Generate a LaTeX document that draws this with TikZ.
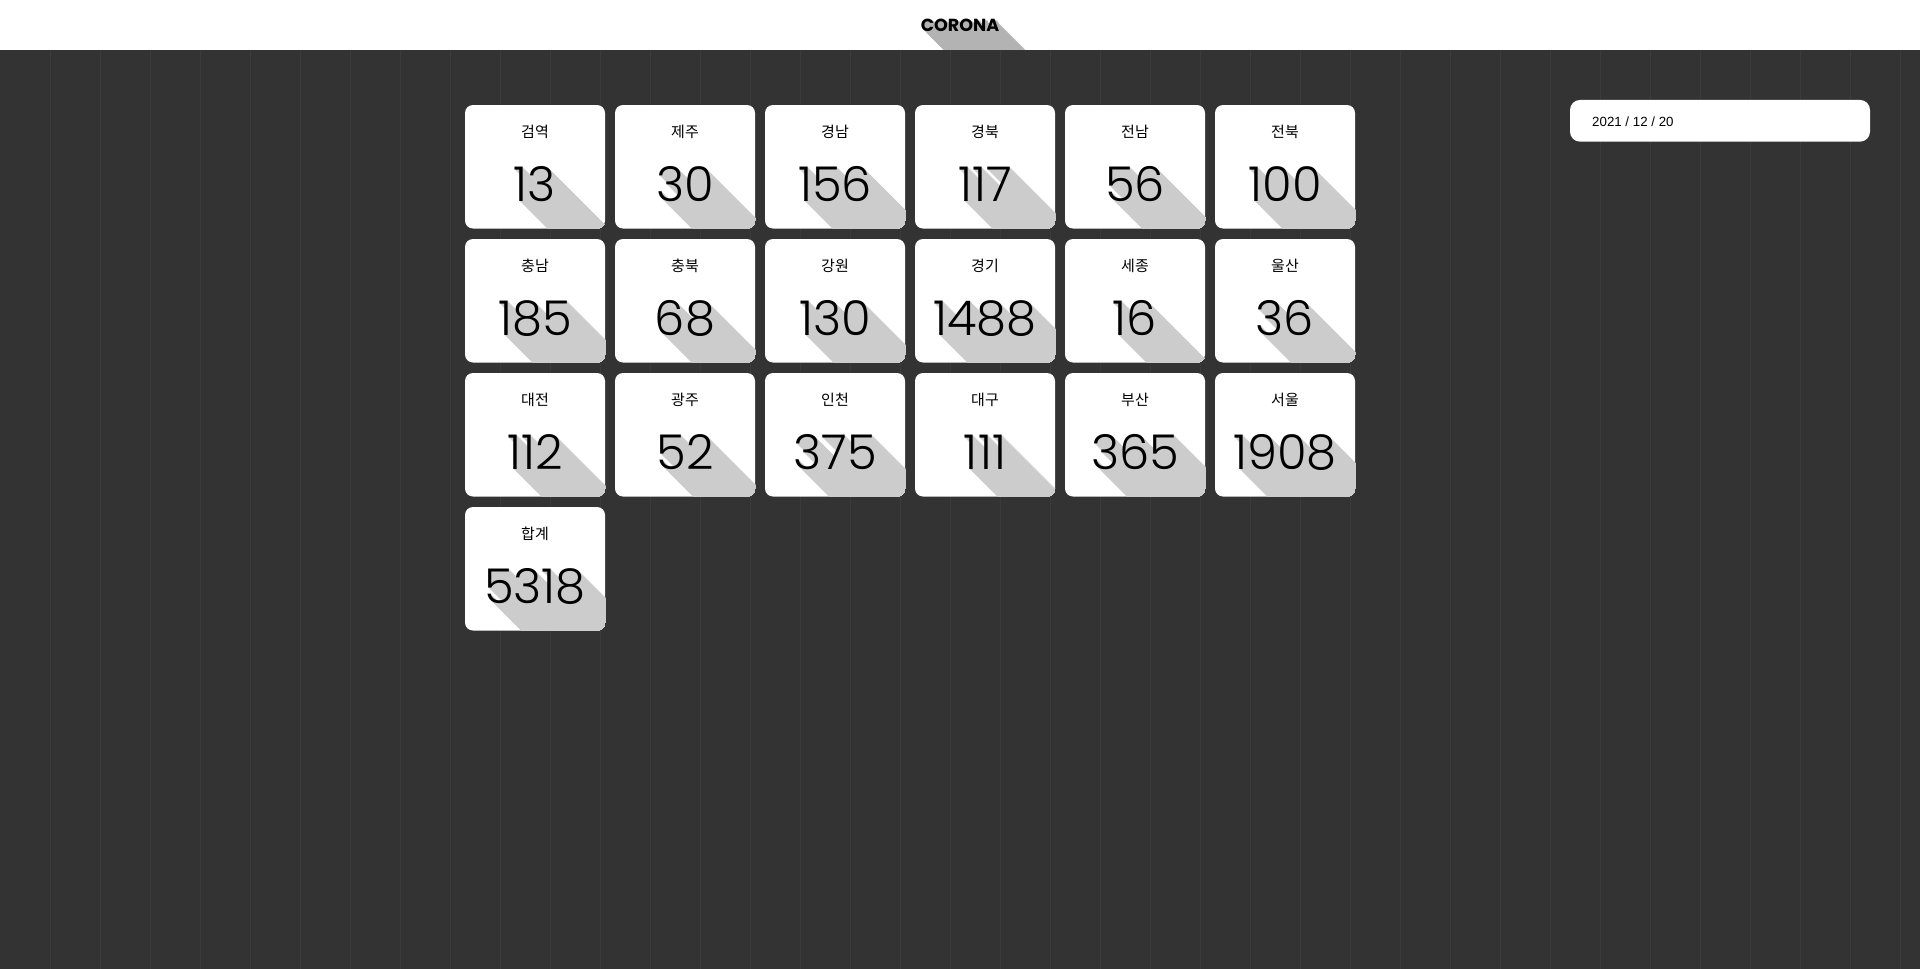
\documentclass[tikz,border=0pt]{standalone}
\usepackage{fontspec}
\newfontfamily\krfont{Noto Sans CJK KR}
\newfontfamily\numfont{Poppins}[UprightFont=* Light]
\newfontfamily\logofont{Poppins}
\newfontfamily\datefont{Liberation Sans}
\definecolor{bg}{HTML}{333333}
\definecolor{gridc}{HTML}{3B3B3B}
\definecolor{shade}{HTML}{CCCCCC}
\definecolor{logoshade}{HTML}{B3B3B3}
\tikzset{
  cardbox/.style={fill=white,rounded corners=8pt,minimum width=140pt,minimum height=123.5pt,inner sep=0pt},
  numtxt/.style={font=\numfont\fontsize{48}{48}\selectfont,inner sep=0pt,anchor=base},
  labeltxt/.style={font=\krfont\fontsize{15}{15}\selectfont,inner sep=0pt,anchor=base},
  logotxt/.style={font=\logofont\bfseries\fontsize{17.5}{17.5}\selectfont,inner sep=0pt,anchor=base},
  datebox/.style={fill=white,rounded corners=10pt,minimum width=300pt,minimum height=41.7pt,inner sep=0pt},
  datetxt/.style={font=\datefont\fontsize{13.3}{13.3}\selectfont,inner sep=0pt,anchor=base west},
  gridline/.style={draw=gridc,line width=1pt}
}
\newcommand\regioncard[5]{%
  \node[cardbox] (#1) at (#2+70,#3+61.75) {};
  \begin{scope}
    \clip[rounded corners=8pt] (#2,#3) rectangle ++(140,123.5);
    \foreach \i in {1,...,72} \node[numtxt,text=shade] at (#2+70+\i,#3+96+\i) {#5};
  \end{scope}
  \node[labeltxt] (#1-label) at (#2+70,#3+32.5) {#4};
  \node[numtxt] (#1-num) at (#2+70,#3+96) {#5};
}
\begin{document}
\begin{tikzpicture}[x=1pt,y=-1pt]
\useasboundingbox (0,0) rectangle (1920,969);
\fill[bg] (0,0) rectangle (1920,969);
\foreach \x in {50,100,...,1900} \draw[gridline] (\x+0.5,49) -- (\x+0.5,969);
\fill[white] (0,0) rectangle (1920,49.5);
% title with long shadow
\begin{scope}
  \clip (0,0) rectangle (1920,49.5);
  \foreach \i in {1,...,30} \node[logotxt,text=logoshade] at (960+\i,31+\i) {CORONA};
\end{scope}
\node[logotxt] (title) at (960,31) {CORONA};
% date box
\node[datebox] (date) at (1720,120.8) {};
\node[datetxt] (datetext) at (1592,126.5) {2021 / 12 / 20};
% cards
\regioncard{c00}{465}{105}{검역}{13}
\regioncard{c01}{615}{105}{제주}{30}
\regioncard{c02}{765}{105}{경남}{156}
\regioncard{c03}{915}{105}{경북}{117}
\regioncard{c04}{1065}{105}{전남}{56}
\regioncard{c05}{1215}{105}{전북}{100}
\regioncard{c10}{465}{239}{충남}{185}
\regioncard{c11}{615}{239}{충북}{68}
\regioncard{c12}{765}{239}{강원}{130}
\regioncard{c13}{915}{239}{경기}{1488}
\regioncard{c14}{1065}{239}{세종}{16}
\regioncard{c15}{1215}{239}{울산}{36}
\regioncard{c20}{465}{373}{대전}{112}
\regioncard{c21}{615}{373}{광주}{52}
\regioncard{c22}{765}{373}{인천}{375}
\regioncard{c23}{915}{373}{대구}{111}
\regioncard{c24}{1065}{373}{부산}{365}
\regioncard{c25}{1215}{373}{서울}{1908}
\regioncard{c30}{465}{507}{합계}{5318}
\end{tikzpicture}
\end{document}
